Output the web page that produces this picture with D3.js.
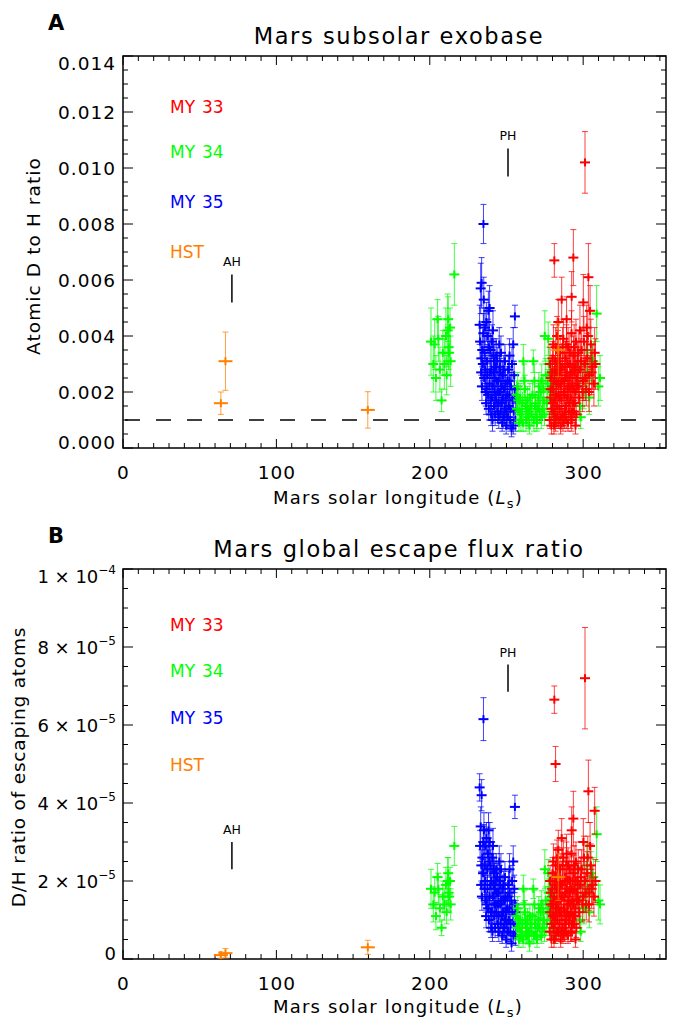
<!DOCTYPE html>
<html>
<head>
<meta charset="utf-8">
<script src="https://cdn.jsdelivr.net/npm/d3@7"></script>
<style>
body { margin: 0; background: #fff; }
text { font-family: "DejaVu Sans", sans-serif; }
</style>
</head>
<body>
<svg id="chart" width="676" height="1022"></svg>
<script>
// each point: [Ls, value, 1-sigma error]
var my33Exo = [
  [281.2, 0.0067, 0.0006], [293.6, 0.0068, 0.0010], [301.2, 0.0102, 0.0011], [303.4, 0.0061, 0.0012],
  [286.0, 0.0053, 0.0008], [292.5, 0.0054, 0.0009], [300.1, 0.0052, 0.0010], [304.5, 0.0049, 0.0009],
  [289.2, 0.0046, 0.0008], [283.8, 0.0045, 0.0008], [297.9, 0.0042, 0.0009], [302.3, 0.0043, 0.0008],
  [278.2, 0.0010, 0.0003], [278.6, 0.0018, 0.0004], [279.0, 0.0025, 0.0005], [279.5, 0.0014, 0.0004],
  [280.0, 0.0032, 0.0006], [280.4, 0.0021, 0.0005], [280.8, 0.0012, 0.0004], [281.3, 0.0028, 0.0005],
  [281.7, 0.0017, 0.0004], [282.1, 0.0036, 0.0007], [282.5, 0.0023, 0.0005], [282.9, 0.0011, 0.0004],
  [283.3, 0.0030, 0.0006], [283.7, 0.0019, 0.0005], [284.2, 0.0026, 0.0005], [284.6, 0.0014, 0.0004],
  [285.0, 0.0034, 0.0006], [285.4, 0.0022, 0.0005], [285.9, 0.0017, 0.0004], [286.3, 0.0029, 0.0006],
  [286.7, 0.0012, 0.0004], [287.1, 0.0039, 0.0007], [287.6, 0.0024, 0.0005], [288.0, 0.0019, 0.0005],
  [288.4, 0.0032, 0.0006], [288.9, 0.0015, 0.0004], [289.3, 0.0027, 0.0006], [289.8, 0.0021, 0.0005],
  [290.2, 0.0036, 0.0007], [290.6, 0.0013, 0.0004], [291.1, 0.0025, 0.0005], [291.5, 0.0030, 0.0006],
  [292.0, 0.0018, 0.0005], [292.4, 0.0041, 0.0008], [292.9, 0.0023, 0.0005], [293.3, 0.0016, 0.0005],
  [293.8, 0.0033, 0.0007], [294.3, 0.0027, 0.0006], [294.8, 0.0020, 0.0005], [295.3, 0.0038, 0.0008],
  [295.8, 0.0025, 0.0006], [296.4, 0.0031, 0.0007], [297.0, 0.0022, 0.0006], [298.0, 0.0028, 0.0007],
  [299.0, 0.0035, 0.0008], [300.0, 0.0024, 0.0007], [301.0, 0.0030, 0.0008], [302.0, 0.0021, 0.0006],
  [303.0, 0.0040, 0.0009], [304.0, 0.0026, 0.0007], [305.0, 0.0037, 0.0009], [306.0, 0.0029, 0.0008],
  [307.5, 0.0034, 0.0009], [283.0, 0.0040, 0.0007], [286.8, 0.0009, 0.0003], [289.0, 0.0010, 0.0003],
  [291.8, 0.0011, 0.0004], [294.0, 0.0013, 0.0004], [281.0, 0.0008, 0.0003],
  [278.4, 0.0030, 0.0006], [278.9, 0.0021, 0.0005], [279.3, 0.0008, 0.0003], [279.8, 0.0027, 0.0006],
  [280.2, 0.0016, 0.0004], [280.6, 0.0037, 0.0007], [281.1, 0.0024, 0.0005], [281.5, 0.0013, 0.0004],
  [281.9, 0.0031, 0.0006], [282.3, 0.0019, 0.0005], [282.7, 0.0027, 0.0005], [283.1, 0.0015, 0.0004],
  [283.5, 0.0035, 0.0007], [283.9, 0.0023, 0.0005], [284.4, 0.0031, 0.0006], [284.8, 0.0018, 0.0005],
  [285.2, 0.0028, 0.0006], [285.6, 0.0011, 0.0004], [286.1, 0.0024, 0.0005], [286.5, 0.0036, 0.0007],
  [287.3, 0.0020, 0.0005], [287.8, 0.0029, 0.0006], [288.2, 0.0013, 0.0004], [288.6, 0.0025, 0.0005],
  [289.1, 0.0037, 0.0007], [289.5, 0.0018, 0.0005], [290.0, 0.0030, 0.0006], [290.4, 0.0022, 0.0005],
  [290.9, 0.0016, 0.0004], [291.3, 0.0034, 0.0007], [291.7, 0.0021, 0.0005], [292.2, 0.0027, 0.0006],
  [292.7, 0.0013, 0.0004], [293.1, 0.0029, 0.0006], [293.6, 0.0021, 0.0005], [294.1, 0.0036, 0.0008],
  [294.6, 0.0016, 0.0005], [295.0, 0.0029, 0.0007], [295.5, 0.0012, 0.0004], [296.0, 0.0022, 0.0006],
  [296.8, 0.0034, 0.0008], [297.5, 0.0018, 0.0006], [298.5, 0.0031, 0.0008], [299.5, 0.0020, 0.0007],
  [300.5, 0.0038, 0.0009], [301.5, 0.0025, 0.0008], [302.6, 0.0032, 0.0009], [303.8, 0.0020, 0.0007],
  [305.5, 0.0027, 0.0008], [307.0, 0.0023, 0.0008], [308.0, 0.0030, 0.0009], [282.0, 0.0009, 0.0003],
  [284.0, 0.0010, 0.0003], [285.3, 0.0008, 0.0003], [287.9, 0.0011, 0.0004], [290.1, 0.0009, 0.0003],
  [292.5, 0.0010, 0.0004], [295.0, 0.0008, 0.0003]
]
var my34Exo = [
  [200.8, 0.0038, 0.0012], [202.3, 0.0030, 0.0010], [203.2, 0.0037, 0.0009], [204.0, 0.0025, 0.0008],
  [205.1, 0.0046, 0.0007], [205.6, 0.0039, 0.0008], [206.6, 0.0028, 0.0008], [207.7, 0.0017, 0.0004],
  [208.5, 0.0034, 0.0008], [209.5, 0.0030, 0.0009], [210.5, 0.0040, 0.0010], [211.0, 0.0026, 0.0007],
  [211.7, 0.0042, 0.0013], [212.0, 0.0046, 0.0008], [212.3, 0.0036, 0.0008], [212.6, 0.0034, 0.0008],
  [213.2, 0.0043, 0.0007], [213.6, 0.0031, 0.0009], [216.0, 0.0062, 0.0011],
  [256.5, 0.0019, 0.0005], [257.7, 0.0017, 0.0005], [258.5, 0.0013, 0.0004], [259.9, 0.0012, 0.0004],
  [261.0, 0.0031, 0.0006], [261.6, 0.0024, 0.0006], [262.4, 0.0015, 0.0004], [263.2, 0.0014, 0.0004],
  [264.1, 0.0011, 0.0004], [265.3, 0.0018, 0.0005], [266.4, 0.0012, 0.0004], [267.5, 0.0031, 0.0004],
  [268.6, 0.0015, 0.0004], [269.4, 0.0011, 0.0004], [270.8, 0.0018, 0.0005], [271.6, 0.0013, 0.0004],
  [272.2, 0.0020, 0.0005], [273.0, 0.0024, 0.0006], [273.5, 0.0014, 0.0004], [274.4, 0.0017, 0.0005],
  [275.0, 0.0040, 0.0009], [275.6, 0.0026, 0.0006], [276.3, 0.0016, 0.0005], [277.2, 0.0039, 0.0006],
  [277.8, 0.0021, 0.0005], [278.4, 0.0026, 0.0006], [279.5, 0.0022, 0.0006], [280.2, 0.0013, 0.0004],
  [256.9, 0.0014, 0.0004], [257.3, 0.0022, 0.0005], [258.1, 0.0009, 0.0003], [258.9, 0.0018, 0.0005],
  [259.4, 0.0010, 0.0004], [260.4, 0.0016, 0.0004], [260.8, 0.0009, 0.0003], [262.0, 0.0021, 0.0005],
  [262.8, 0.0010, 0.0004], [263.7, 0.0017, 0.0005], [264.6, 0.0013, 0.0004], [265.0, 0.0008, 0.0003],
  [265.8, 0.0015, 0.0004], [266.9, 0.0019, 0.0005], [267.9, 0.0010, 0.0004], [268.2, 0.0024, 0.0006],
  [269.0, 0.0016, 0.0004], [269.9, 0.0009, 0.0003], [270.3, 0.0014, 0.0004], [271.1, 0.0022, 0.0005],
  [272.7, 0.0011, 0.0004], [274.0, 0.0021, 0.0005], [274.8, 0.0012, 0.0004], [276.8, 0.0023, 0.0005],
  [277.5, 0.0030, 0.0006], [278.9, 0.0017, 0.0005], [279.9, 0.0027, 0.0006], [280.8, 0.0019, 0.0005],
  [281.5, 0.0011, 0.0004], [282.3, 0.0024, 0.0006],
  [296.5, 0.0029, 0.0007], [297.9, 0.0015, 0.0005], [298.4, 0.0011, 0.0004], [299.5, 0.0024, 0.0006],
  [300.5, 0.0020, 0.0006], [302.3, 0.0035, 0.0008], [303.0, 0.0027, 0.0007], [304.0, 0.0018, 0.0006],
  [305.0, 0.0032, 0.0008], [306.6, 0.0031, 0.0007], [308.8, 0.0048, 0.0010], [309.9, 0.0022, 0.0007],
  [311.0, 0.0025, 0.0008]
]
var my35Exo = [
  [232.5, 0.0044, 0.0007], [233.2, 0.0057, 0.0009], [233.8, 0.0059, 0.0009], [234.2, 0.0035, 0.0006],
  [234.6, 0.0030, 0.0006], [235.0, 0.0080, 0.0007], [235.2, 0.0053, 0.0008], [235.5, 0.0025, 0.0005],
  [236.0, 0.0043, 0.0007], [236.4, 0.0020, 0.0005], [236.9, 0.0045, 0.0007], [237.3, 0.0031, 0.0006],
  [237.8, 0.0040, 0.0006], [238.2, 0.0049, 0.0007], [238.6, 0.0036, 0.0006], [239.0, 0.0050, 0.0008],
  [239.3, 0.0027, 0.0005], [239.7, 0.0017, 0.0004], [240.2, 0.0028, 0.0006], [240.6, 0.0038, 0.0006],
  [241.0, 0.0022, 0.0005], [241.5, 0.0033, 0.0006], [241.9, 0.0015, 0.0004], [242.3, 0.0025, 0.0005],
  [242.8, 0.0019, 0.0005], [243.3, 0.0033, 0.0006], [243.7, 0.0024, 0.0005], [244.2, 0.0013, 0.0004],
  [244.7, 0.0024, 0.0005], [245.3, 0.0037, 0.0006], [245.8, 0.0020, 0.0005], [246.4, 0.0034, 0.0006],
  [246.9, 0.0016, 0.0004], [247.5, 0.0026, 0.0005], [247.9, 0.0011, 0.0004], [248.4, 0.0021, 0.0005],
  [249.0, 0.0031, 0.0006], [249.5, 0.0017, 0.0004], [250.1, 0.0013, 0.0004], [250.6, 0.0024, 0.0005],
  [251.2, 0.0028, 0.0005], [251.8, 0.0019, 0.0005], [252.4, 0.0010, 0.0004], [253.0, 0.0022, 0.0005],
  [253.6, 0.0030, 0.0006], [254.4, 0.0037, 0.0006], [254.4, 0.0008, 0.0003], [255.0, 0.0026, 0.0005],
  [255.5, 0.0047, 0.0004], [256.0, 0.0018, 0.0004], [233.5, 0.0027, 0.0005], [237.0, 0.0021, 0.0005],
  [240.0, 0.0012, 0.0004], [243.0, 0.0029, 0.0005], [246.0, 0.0027, 0.0005], [249.0, 0.0014, 0.0004],
  [252.0, 0.0033, 0.0006], [238.5, 0.0014, 0.0004], [241.2, 0.0042, 0.0007], [244.0, 0.0031, 0.0005],
  [232.8, 0.0038, 0.0006], [233.6, 0.0032, 0.0006], [234.0, 0.0022, 0.0005], [234.9, 0.0041, 0.0007],
  [235.8, 0.0034, 0.0006], [236.2, 0.0028, 0.0005], [236.7, 0.0016, 0.0004], [237.6, 0.0026, 0.0005],
  [238.0, 0.0019, 0.0004], [238.9, 0.0023, 0.0005], [239.5, 0.0035, 0.0006], [240.4, 0.0018, 0.0004],
  [240.9, 0.0010, 0.0004], [241.7, 0.0027, 0.0005], [242.1, 0.0020, 0.0005], [242.6, 0.0012, 0.0004],
  [243.5, 0.0017, 0.0004], [244.5, 0.0020, 0.0005], [245.0, 0.0011, 0.0004], [245.6, 0.0029, 0.0005],
  [246.2, 0.0013, 0.0004], [246.7, 0.0022, 0.0005], [247.2, 0.0009, 0.0003], [247.7, 0.0018, 0.0004],
  [248.2, 0.0028, 0.0005], [248.7, 0.0012, 0.0004], [249.3, 0.0023, 0.0005], [249.8, 0.0008, 0.0003],
  [250.4, 0.0019, 0.0004], [250.9, 0.0011, 0.0004], [251.5, 0.0015, 0.0004], [252.1, 0.0024, 0.0005],
  [252.7, 0.0014, 0.0004], [253.3, 0.0007, 0.0003], [253.9, 0.0017, 0.0004], [254.7, 0.0013, 0.0004],
  [255.3, 0.0021, 0.0005], [255.8, 0.0010, 0.0004], [244.9, 0.0016, 0.0004], [242.0, 0.0031, 0.0006]
]
var hstExo = [[63.8, 0.0016, 0.0004], [66.8, 0.0031, 0.00104], [159.6, 0.00136, 0.00065], [283.8, 0.0035, 0.00095]]

var my33Esc = [
  [281.2, 6.65e-5, 0.35e-5], [282.0, 5.0e-5, 0.45e-5], [301.2, 7.2e-5, 1.3e-5], [303.4, 4.3e-5, 0.8e-5],
  [307.5, 3.8e-5, 0.6e-5], [293.6, 3.6e-5, 0.7e-5], [286.0, 3.1e-5, 0.5e-5], [292.5, 3.3e-5, 0.6e-5],
  [300.1, 3.0e-5, 0.6e-5], [304.5, 2.9e-5, 0.6e-5], [289.2, 2.7e-5, 0.5e-5], [283.8, 2.8e-5, 0.5e-5],
  [278.2, 0.7e-5, 0.2e-5], [278.6, 1.2e-5, 0.3e-5], [279.0, 1.7e-5, 0.35e-5], [279.5, 0.9e-5, 0.25e-5],
  [280.0, 2.2e-5, 0.4e-5], [280.4, 1.4e-5, 0.3e-5], [280.8, 0.8e-5, 0.25e-5], [281.3, 1.9e-5, 0.35e-5],
  [281.7, 1.1e-5, 0.3e-5], [282.1, 2.4e-5, 0.45e-5], [282.5, 1.5e-5, 0.35e-5], [282.9, 0.7e-5, 0.25e-5],
  [283.3, 2.0e-5, 0.4e-5], [283.7, 1.3e-5, 0.3e-5], [284.2, 1.7e-5, 0.35e-5], [284.6, 0.9e-5, 0.25e-5],
  [285.0, 2.3e-5, 0.4e-5], [285.4, 1.5e-5, 0.35e-5], [285.9, 1.1e-5, 0.3e-5], [286.3, 1.9e-5, 0.4e-5],
  [286.7, 0.8e-5, 0.25e-5], [287.1, 2.6e-5, 0.45e-5], [287.6, 1.6e-5, 0.35e-5], [288.0, 1.2e-5, 0.3e-5],
  [288.4, 2.1e-5, 0.4e-5], [288.9, 1.0e-5, 0.3e-5], [289.3, 1.8e-5, 0.4e-5], [289.8, 1.4e-5, 0.35e-5],
  [290.2, 2.4e-5, 0.45e-5], [290.6, 0.9e-5, 0.25e-5], [291.1, 1.7e-5, 0.35e-5], [291.5, 2.0e-5, 0.4e-5],
  [292.0, 1.2e-5, 0.3e-5], [292.4, 2.7e-5, 0.5e-5], [292.9, 1.5e-5, 0.35e-5], [293.3, 1.1e-5, 0.3e-5],
  [293.8, 2.2e-5, 0.45e-5], [294.3, 1.8e-5, 0.4e-5], [294.8, 1.3e-5, 0.35e-5], [295.3, 2.5e-5, 0.5e-5],
  [295.8, 1.7e-5, 0.4e-5], [296.4, 2.0e-5, 0.45e-5], [297.0, 1.5e-5, 0.4e-5], [298.0, 1.9e-5, 0.45e-5],
  [299.0, 2.3e-5, 0.5e-5], [300.0, 1.6e-5, 0.4e-5], [301.0, 2.0e-5, 0.5e-5], [302.0, 1.4e-5, 0.4e-5],
  [303.0, 2.6e-5, 0.55e-5], [304.0, 1.7e-5, 0.45e-5], [305.0, 2.4e-5, 0.55e-5], [306.0, 1.9e-5, 0.5e-5],
  [283.0, 2.6e-5, 0.45e-5], [286.8, 0.6e-5, 0.2e-5], [289.0, 0.7e-5, 0.2e-5], [291.8, 0.7e-5, 0.25e-5],
  [294.0, 0.9e-5, 0.25e-5], [281.0, 0.5e-5, 0.2e-5],
  [278.4, 2.0e-5, 0.4e-5], [278.9, 1.4e-5, 0.35e-5], [279.3, 0.5e-5, 0.2e-5], [279.8, 1.8e-5, 0.4e-5],
  [280.2, 1.1e-5, 0.3e-5], [280.6, 2.5e-5, 0.45e-5], [281.1, 1.6e-5, 0.35e-5], [281.5, 0.9e-5, 0.25e-5],
  [281.9, 2.1e-5, 0.4e-5], [282.3, 1.3e-5, 0.3e-5], [282.7, 1.8e-5, 0.35e-5], [283.1, 1.0e-5, 0.3e-5],
  [283.5, 2.4e-5, 0.45e-5], [283.9, 1.5e-5, 0.35e-5], [284.4, 2.1e-5, 0.4e-5], [284.8, 1.2e-5, 0.3e-5],
  [285.2, 1.9e-5, 0.4e-5], [285.6, 0.7e-5, 0.25e-5], [286.1, 1.6e-5, 0.35e-5], [286.5, 2.4e-5, 0.45e-5],
  [287.3, 1.3e-5, 0.3e-5], [287.8, 2.0e-5, 0.4e-5], [288.2, 0.9e-5, 0.25e-5], [288.6, 1.7e-5, 0.35e-5],
  [289.1, 2.5e-5, 0.5e-5], [289.5, 1.2e-5, 0.3e-5], [290.0, 2.0e-5, 0.4e-5], [290.4, 1.5e-5, 0.35e-5],
  [290.9, 1.1e-5, 0.3e-5], [291.3, 2.3e-5, 0.45e-5], [291.7, 1.4e-5, 0.35e-5], [292.2, 1.8e-5, 0.4e-5],
  [292.7, 0.9e-5, 0.25e-5], [293.1, 2.0e-5, 0.4e-5], [293.6, 1.4e-5, 0.35e-5], [294.1, 2.4e-5, 0.5e-5],
  [294.6, 1.1e-5, 0.3e-5], [295.0, 2.0e-5, 0.45e-5], [295.5, 0.8e-5, 0.25e-5], [296.0, 1.5e-5, 0.4e-5],
  [296.8, 2.3e-5, 0.5e-5], [297.5, 1.2e-5, 0.4e-5], [298.5, 2.1e-5, 0.5e-5], [299.5, 1.4e-5, 0.45e-5],
  [300.5, 2.6e-5, 0.55e-5], [301.5, 1.7e-5, 0.5e-5], [302.6, 2.2e-5, 0.55e-5], [303.8, 1.4e-5, 0.45e-5],
  [305.5, 1.8e-5, 0.5e-5], [307.0, 1.6e-5, 0.5e-5], [308.0, 2.0e-5, 0.55e-5], [282.0, 0.6e-5, 0.2e-5],
  [284.0, 0.7e-5, 0.2e-5], [285.3, 0.5e-5, 0.2e-5], [287.9, 0.7e-5, 0.25e-5], [290.1, 0.6e-5, 0.2e-5],
  [292.5, 0.7e-5, 0.25e-5], [295.0, 0.5e-5, 0.2e-5]
]
var my34Esc = [
  [200.8, 1.8e-5, 0.5e-5], [202.3, 1.4e-5, 0.45e-5], [203.2, 1.7e-5, 0.4e-5], [204.0, 1.1e-5, 0.35e-5],
  [205.1, 2.1e-5, 0.35e-5], [205.6, 1.8e-5, 0.4e-5], [206.6, 1.3e-5, 0.35e-5], [207.7, 0.8e-5, 0.2e-5],
  [208.5, 1.6e-5, 0.4e-5], [209.5, 1.4e-5, 0.4e-5], [210.5, 1.9e-5, 0.45e-5], [211.0, 1.2e-5, 0.3e-5],
  [211.7, 2.0e-5, 0.6e-5], [212.0, 2.2e-5, 0.4e-5], [212.3, 1.7e-5, 0.35e-5], [212.6, 1.6e-5, 0.35e-5],
  [213.2, 2.0e-5, 0.35e-5], [213.6, 1.4e-5, 0.4e-5], [216.0, 2.9e-5, 0.5e-5],
  [256.5, 1.1e-5, 0.3e-5], [257.7, 1.0e-5, 0.3e-5], [258.5, 0.8e-5, 0.25e-5], [259.9, 0.7e-5, 0.25e-5],
  [261.0, 1.8e-5, 0.35e-5], [261.6, 1.4e-5, 0.35e-5], [262.4, 0.9e-5, 0.25e-5], [263.2, 0.8e-5, 0.25e-5],
  [264.1, 0.6e-5, 0.2e-5], [265.3, 1.1e-5, 0.3e-5], [266.4, 0.7e-5, 0.25e-5], [267.5, 1.8e-5, 0.25e-5],
  [268.6, 0.9e-5, 0.25e-5], [269.4, 0.6e-5, 0.2e-5], [270.8, 1.0e-5, 0.3e-5], [271.6, 0.8e-5, 0.25e-5],
  [272.2, 1.2e-5, 0.3e-5], [273.0, 1.4e-5, 0.35e-5], [273.5, 0.8e-5, 0.25e-5], [274.4, 1.0e-5, 0.3e-5],
  [275.0, 2.3e-5, 0.5e-5], [275.6, 1.5e-5, 0.35e-5], [276.3, 0.9e-5, 0.3e-5], [277.2, 2.2e-5, 0.35e-5],
  [277.8, 1.2e-5, 0.3e-5], [278.4, 1.5e-5, 0.35e-5], [279.5, 1.3e-5, 0.35e-5], [280.2, 0.8e-5, 0.25e-5],
  [256.9, 0.8e-5, 0.25e-5], [257.3, 1.3e-5, 0.3e-5], [258.1, 0.5e-5, 0.2e-5], [258.9, 1.0e-5, 0.3e-5],
  [259.4, 0.6e-5, 0.2e-5], [260.4, 0.9e-5, 0.25e-5], [260.8, 0.5e-5, 0.2e-5], [262.0, 1.2e-5, 0.3e-5],
  [262.8, 0.6e-5, 0.2e-5], [263.7, 1.0e-5, 0.3e-5], [264.6, 0.7e-5, 0.25e-5], [265.0, 0.4e-5, 0.2e-5],
  [265.8, 0.9e-5, 0.25e-5], [266.9, 1.1e-5, 0.3e-5], [267.9, 0.6e-5, 0.2e-5], [268.2, 1.4e-5, 0.35e-5],
  [269.0, 0.9e-5, 0.25e-5], [269.9, 0.5e-5, 0.2e-5], [270.3, 0.8e-5, 0.25e-5], [271.1, 1.3e-5, 0.3e-5],
  [272.7, 0.6e-5, 0.2e-5], [274.0, 1.2e-5, 0.3e-5], [274.8, 0.7e-5, 0.25e-5], [276.8, 1.3e-5, 0.3e-5],
  [277.5, 1.7e-5, 0.35e-5], [278.9, 1.0e-5, 0.3e-5], [279.9, 1.6e-5, 0.35e-5], [280.8, 1.1e-5, 0.3e-5],
  [281.5, 0.6e-5, 0.2e-5], [282.3, 1.4e-5, 0.35e-5],
  [296.5, 1.9e-5, 0.45e-5], [297.9, 1.0e-5, 0.35e-5], [298.4, 0.7e-5, 0.25e-5], [299.5, 1.6e-5, 0.4e-5],
  [300.5, 1.3e-5, 0.4e-5], [302.3, 2.4e-5, 0.55e-5], [303.0, 1.8e-5, 0.5e-5], [304.0, 1.2e-5, 0.4e-5],
  [305.0, 2.2e-5, 0.55e-5], [306.6, 2.1e-5, 0.5e-5], [308.8, 3.2e-5, 0.7e-5], [309.9, 1.5e-5, 0.5e-5],
  [311.0, 1.4e-5, 0.5e-5]
]
var my35Esc = [
  [232.5, 4.4e-5, 0.35e-5], [233.2, 3.4e-5, 0.5e-5], [233.8, 4.2e-5, 0.4e-5], [234.3, 2.6e-5, 0.4e-5],
  [234.7, 2.2e-5, 0.4e-5], [235.0, 6.15e-5, 0.55e-5], [235.3, 3.3e-5, 0.45e-5], [235.7, 1.8e-5, 0.35e-5],
  [236.1, 2.9e-5, 0.45e-5], [236.5, 1.5e-5, 0.3e-5], [237.0, 3.1e-5, 0.4e-5], [237.4, 2.3e-5, 0.4e-5],
  [237.9, 2.7e-5, 0.4e-5], [238.3, 3.3e-5, 0.45e-5], [238.7, 2.5e-5, 0.4e-5], [239.1, 3.0e-5, 0.5e-5],
  [239.5, 1.9e-5, 0.35e-5], [239.9, 1.2e-5, 0.3e-5], [240.3, 2.0e-5, 0.4e-5], [240.7, 2.6e-5, 0.4e-5],
  [241.1, 1.6e-5, 0.35e-5], [241.6, 2.3e-5, 0.4e-5], [242.0, 1.1e-5, 0.3e-5], [242.4, 1.8e-5, 0.35e-5],
  [242.9, 1.4e-5, 0.3e-5], [243.3, 2.3e-5, 0.4e-5], [243.8, 1.7e-5, 0.35e-5], [244.3, 0.9e-5, 0.3e-5],
  [244.8, 1.7e-5, 0.35e-5], [245.3, 2.5e-5, 0.4e-5], [245.9, 1.4e-5, 0.3e-5], [246.4, 2.3e-5, 0.4e-5],
  [247.0, 1.1e-5, 0.3e-5], [247.5, 1.8e-5, 0.35e-5], [248.0, 0.8e-5, 0.25e-5], [248.5, 1.5e-5, 0.3e-5],
  [249.0, 2.1e-5, 0.4e-5], [249.6, 1.2e-5, 0.3e-5], [250.1, 0.9e-5, 0.25e-5], [250.7, 1.6e-5, 0.35e-5],
  [251.3, 1.9e-5, 0.35e-5], [251.9, 1.3e-5, 0.3e-5], [252.5, 0.7e-5, 0.25e-5], [253.1, 1.5e-5, 0.3e-5],
  [253.7, 2.0e-5, 0.4e-5], [254.4, 2.5e-5, 0.4e-5], [254.5, 0.6e-5, 0.2e-5], [255.1, 1.8e-5, 0.35e-5],
  [255.5, 3.9e-5, 0.3e-5], [256.0, 1.2e-5, 0.3e-5], [233.5, 1.9e-5, 0.35e-5], [237.0, 1.4e-5, 0.3e-5],
  [240.0, 0.8e-5, 0.25e-5], [243.0, 2.0e-5, 0.35e-5], [246.0, 1.9e-5, 0.35e-5], [249.0, 1.0e-5, 0.3e-5],
  [252.0, 2.3e-5, 0.4e-5], [238.5, 1.0e-5, 0.3e-5], [241.2, 2.9e-5, 0.45e-5], [244.0, 2.1e-5, 0.35e-5],
  [232.8, 2.9e-5, 0.4e-5], [233.6, 2.4e-5, 0.4e-5], [234.0, 1.6e-5, 0.35e-5], [234.9, 3.0e-5, 0.45e-5],
  [235.8, 2.4e-5, 0.4e-5], [236.2, 2.0e-5, 0.35e-5], [236.7, 1.1e-5, 0.3e-5], [237.6, 1.8e-5, 0.35e-5],
  [238.0, 1.3e-5, 0.3e-5], [238.9, 1.6e-5, 0.35e-5], [239.5, 2.4e-5, 0.4e-5], [240.4, 1.2e-5, 0.3e-5],
  [240.9, 0.7e-5, 0.25e-5], [241.7, 1.9e-5, 0.35e-5], [242.1, 1.4e-5, 0.3e-5], [242.6, 0.8e-5, 0.25e-5],
  [243.5, 1.2e-5, 0.3e-5], [244.5, 1.4e-5, 0.3e-5], [245.0, 0.7e-5, 0.25e-5], [245.6, 2.0e-5, 0.4e-5],
  [246.2, 0.9e-5, 0.25e-5], [246.7, 1.5e-5, 0.35e-5], [247.2, 0.6e-5, 0.2e-5], [247.7, 1.2e-5, 0.3e-5],
  [248.2, 1.9e-5, 0.35e-5], [248.7, 0.8e-5, 0.25e-5], [249.3, 1.6e-5, 0.35e-5], [249.8, 0.5e-5, 0.2e-5],
  [250.4, 1.3e-5, 0.3e-5], [250.9, 0.7e-5, 0.25e-5], [251.5, 1.0e-5, 0.3e-5], [252.1, 1.7e-5, 0.35e-5],
  [252.7, 0.9e-5, 0.25e-5], [253.3, 0.4e-5, 0.2e-5], [253.9, 1.2e-5, 0.3e-5], [254.7, 0.9e-5, 0.25e-5],
  [255.3, 1.4e-5, 0.3e-5], [255.8, 0.6e-5, 0.25e-5], [244.9, 1.1e-5, 0.3e-5], [242.0, 2.2e-5, 0.4e-5]
]
var hstEsc = [[63.8, 0.1e-5, 0.08e-5], [66.8, 0.15e-5, 0.12e-5], [159.6, 0.3e-5, 0.18e-5], [283.8, 2.1e-5, 0.6e-5]]

var seasons = [{ name: 'AH', ls: 71 }, { name: 'PH', ls: 251 }]
var legendNames = [['MY', '33'], ['MY', '34'], ['MY', '35'], ['HST', '']]
var seriesColors = ['#ff0000', '#00ff00', '#0000ff', '#ff8000']
var xTicks = [0, 100, 200, 300]
var exoTicks = [0, 0.002, 0.004, 0.006, 0.008, 0.010, 0.012, 0.014]
var escTicks = [0, 2e-5, 4e-5, 6e-5, 8e-5, 1e-4]

var svg = d3.select('#chart')

function drawPanel(p) {
    var x = d3.scaleLinear().domain([0, 354]).range([123, 666])
    var y = d3.scaleLinear().domain(p.yDomain).range([p.bottom, p.top])
    var g = svg.append('g')

    // minor + major ticks on all four sides
    var xMinor = d3.range(0, 355, 10)
    var yMinor = d3.range(0, 8 * 4 + 1).map(i => p.yDomain[0] + i * p.yMinorStep).filter(v => v <= p.yDomain[1] + 1e-12)
    xMinor.forEach(v => {
        var len = v % 100 === 0 ? 9 : 5
        g.append('line').attr('x1', x(v)).attr('x2', x(v)).attr('y1', p.bottom).attr('y2', p.bottom - len).attr('stroke', '#000')
        g.append('line').attr('x1', x(v)).attr('x2', x(v)).attr('y1', p.top).attr('y2', p.top + len).attr('stroke', '#000')
    })
    yMinor.forEach((v, i) => {
        var len = i % 4 === 0 ? 10 : 5
        g.append('line').attr('x1', 123).attr('x2', 123 + len).attr('y1', y(v)).attr('y2', y(v)).attr('stroke', '#000')
        g.append('line').attr('x1', 666).attr('x2', 666 - len).attr('y1', y(v)).attr('y2', y(v)).attr('stroke', '#000')
    })
    g.append('rect').attr('x', 123).attr('y', p.top).attr('width', 543).attr('height', p.bottom - p.top)
        .attr('fill', 'none').attr('stroke', '#000').attr('stroke-width', 1.5)

    // tick labels
    xTicks.forEach(v => {
        g.append('text').attr('x', x(v) + 0.5).attr('y', p.bottom + 31).attr('text-anchor', 'middle')
            .attr('font-size', 18.5).attr('letter-spacing', 1).text(v)
    })
    p.yTicks.forEach((v, i) => {
        var shift = i === 0 ? -6 : (i === p.yTicks.length - 1 ? 7 : 0)
        var t = g.append('text').attr('x', 116).attr('y', y(v) + 6.5 + shift).attr('text-anchor', 'end')
            .attr('font-size', p.tickSize).attr('letter-spacing', p.tickSpacing)
        p.tickFormat(t, v)
    })

    // dashed reference line
    if (p.dashed !== undefined) {
        g.append('line').attr('x1', 125).attr('x2', 665).attr('y1', y(p.dashed)).attr('y2', y(p.dashed))
            .attr('stroke', '#000').attr('stroke-width', 1.5).attr('stroke-dasharray', '15,16')
    }

    // data with error bars
    p.series.forEach(s => {
        var col = seriesColors[s.color]
        var hw = s.color === 3 ? 7 : 5
        var sg = g.append('g')
        s.data.forEach(d => {
            var cx = x(d[0]), cy = y(d[1]), y0 = y(Math.max(d[1] - d[2], p.yDomain[0])), y1 = y(d[1] + d[2])
            sg.append('line').attr('x1', cx).attr('x2', cx).attr('y1', y0).attr('y2', y1).attr('stroke', col).attr('stroke-opacity', 0.75)
            sg.append('line').attr('x1', cx - 3).attr('x2', cx + 3).attr('y1', y0).attr('y2', y0).attr('stroke', col).attr('stroke-opacity', 0.75)
            sg.append('line').attr('x1', cx - 3).attr('x2', cx + 3).attr('y1', y1).attr('y2', y1).attr('stroke', col).attr('stroke-opacity', 0.75)
            sg.append('line').attr('x1', cx - hw).attr('x2', cx + hw).attr('y1', cy).attr('y2', cy).attr('stroke', col).attr('stroke-width', 2)
            sg.append('line').attr('x1', cx).attr('x2', cx).attr('y1', cy - 4).attr('y2', cy + 4).attr('stroke', col).attr('stroke-width', 2)
        })
    })

    // legend
    legendNames.forEach((n, i) => {
        var t = g.append('text').attr('x', 170).attr('y', p.legendY[i]).attr('font-size', 17).attr('fill', seriesColors[i])
        t.append('tspan').text(n[0])
        t.append('tspan').attr('x', 202).text(n[1])
    })

    // AH / PH markers
    seasons.forEach((s, i) => {
        var m = p.marks[i]
        g.append('line').attr('x1', x(s.ls)).attr('x2', x(s.ls)).attr('y1', y(m[0])).attr('y2', y(m[1]))
            .attr('stroke', '#000').attr('stroke-width', 1.5)
        g.append('text').attr('x', x(s.ls)).attr('y', y(m[1]) - 8).attr('text-anchor', 'middle')
            .attr('font-size', 12.5).text(s.name)
    })

    // titles
    svg.append('text').attr('x', 399).attr('y', p.top - 12).attr('text-anchor', 'middle')
        .attr('font-size', 22.5).attr('letter-spacing', 1.6).text(p.title)
    svg.append('text').attr('x', 48).attr('y', p.top - 26).attr('font-size', 21).attr('font-weight', 'bold').text(p.letter)
    var xt = svg.append('text').attr('x', 398).attr('y', p.bottom + p.xTitleDy).attr('text-anchor', 'middle')
        .attr('font-size', 18).attr('letter-spacing', 1.2)
    xt.append('tspan').text('Mars solar longitude (')
    xt.append('tspan').attr('font-style', 'italic').text('L')
    xt.append('tspan').attr('font-size', 13).attr('dy', 4).text('s')
    xt.append('tspan').attr('dy', -4).text(')')
    svg.append('text').attr('transform', 'translate(' + p.yTitleX + ',' + p.yTitleY + ') rotate(-90)')
        .attr('text-anchor', 'middle').attr('font-size', 18.5).attr('letter-spacing', p.yTitleSpacing).text(p.yTitle)
}

function plainFmt(t, v) { t.text(v.toFixed(3)) }
function sciFmt(t, v) {
    if (v === 0) { t.text('0'); return }
    var e = Math.floor(Math.log10(v) + 1e-9)
    var m = Math.round(v / Math.pow(10, e))
    t.append('tspan').text(m + ' \u00d7 10')
    t.append('tspan').attr('font-size', 12).attr('dy', -9).text('\u2212' + (-e))
}

drawPanel({
    letter: 'A', title: 'Mars subsolar exobase', yTitle: 'Atomic D to H ratio',
    top: 56, bottom: 448, yDomain: [0, 0.014], yMinorStep: 0.0005, yTicks: exoTicks, tickFormat: plainFmt,
    tickSize: 18.5, tickSpacing: 1,
    yTitleX: 40, yTitleY: 256, yTitleSpacing: 1.1, dashed: 0.001, xTitleDy: 56,
    legendY: [113, 158, 208, 258],
    marks: [[0.0052, 0.0062], [0.0097, 0.0107]],
    series: [{ data: my35Exo, color: 2 }, { data: my34Exo, color: 1 }, { data: my33Exo, color: 0 }, { data: hstExo, color: 3 }]
})
drawPanel({
    letter: 'B', title: 'Mars global escape flux ratio', yTitle: 'D/H ratio of escaping atoms',
    top: 569, bottom: 959, yDomain: [0, 1e-4], yMinorStep: 5e-6, yTicks: escTicks, tickFormat: sciFmt,
    tickSize: 18, tickSpacing: 0,
    yTitleX: 25, yTitleY: 767, yTitleSpacing: 0.8, xTitleDy: 54,
    legendY: [631, 677, 724, 771],
    marks: [[2.3e-5, 3.0e-5], [6.85e-5, 7.55e-5]],
    series: [{ data: my35Esc, color: 2 }, { data: my34Esc, color: 1 }, { data: my33Esc, color: 0 }, { data: hstEsc, color: 3 }]
})
</script>
</body>
</html>
